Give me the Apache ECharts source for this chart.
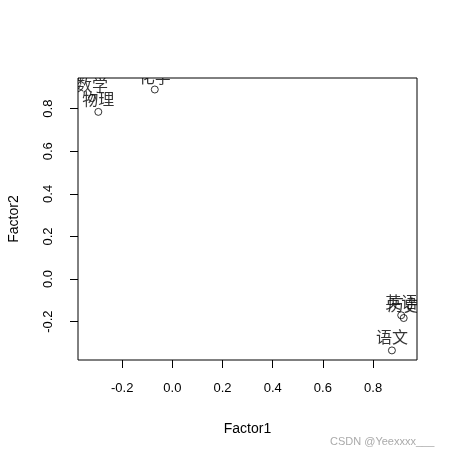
<!DOCTYPE html>
<html>
<head>
<meta charset="utf-8">
<script src="https://cdn.jsdelivr.net/npm/echarts@6/dist/echarts.min.js"></script>
<style>
  html, body { margin: 0; padding: 0; background: #fff; }
  #chart { width: 458px; height: 458px; }
</style>
</head>
<body>
<div id="chart"></div>
<script>
// subjects and their loadings on the two factors
var subjects = ["数学", "物理", "化学", "语文", "英语", "历史"];
var factor1 = [-0.32, -0.295, -0.07, 0.875, 0.912, 0.922];
var factor2 = [0.85, 0.785, 0.89, -0.335, -0.17, -0.183];
var xTicks = [-0.2, 0.0, 0.2, 0.4, 0.6, 0.8];
var yTicks = [-0.2, 0.0, 0.2, 0.4, 0.6, 0.8];

var G = { left: 78, right: 41, top: 78, bottom: 98 };
var W = 458, H = 458;

var points = [];
for (var i = 0; i < subjects.length; i++) {
  points.push({ name: subjects[i], value: [factor1[i], factor2[i]] });
}

var chart = echarts.init(document.getElementById("chart"));
var tickFont = { fontFamily: "Liberation Sans", fontSize: 13, color: "#000" };

chart.setOption({
  animation: false,
  grid: {
    left: G.left, right: G.right, top: G.top, bottom: G.bottom,
    outerBoundsMode: "none", containLabel: false,
    show: true, borderColor: "#000", borderWidth: 1, z: 10
  },
  xAxis: {
    type: "value", min: -0.376, max: 0.975, z: 10,
    name: "Factor1", nameLocation: "middle", nameGap: 62,
    nameTextStyle: { fontFamily: "Liberation Sans", fontSize: 14, color: "#000" },
    axisLine: { show: false, onZero: false },
    splitLine: { show: false },
    axisTick: { show: true, length: 8, customValues: xTicks, lineStyle: { color: "#000" } },
    axisLabel: Object.assign({ margin: 22, customValues: xTicks,
      formatter: function (v) { return v.toFixed(1); } }, tickFont)
  },
  yAxis: {
    type: "value", min: -0.38, max: 0.944, z: 10,
    name: "Factor2", nameLocation: "middle", nameGap: 57,
    nameTextStyle: { fontFamily: "Liberation Sans", fontSize: 14, color: "#000" },
    axisLine: { show: false, onZero: false },
    splitLine: { show: false },
    axisTick: { show: true, length: 8, customValues: yTicks, lineStyle: { color: "#000" } },
    axisLabel: Object.assign({ margin: 23, rotate: 90, customValues: yTicks,
      formatter: function (v) { return v.toFixed(1); } }, tickFont)
  },
  series: [{
    type: "scatter",
    z: 1,
    data: points,
    symbol: "circle",
    symbolSize: 7,
    itemStyle: { color: "rgba(0,0,0,0)", borderColor: "#000", borderWidth: 1 },
    label: {
      show: true, position: "top", distance: 1,
      formatter: "{b}",
      fontFamily: "Noto Sans CJK SC", fontSize: 16, color: "#000"
    },
    labelLayout: { hideOverlap: false }
  }],
  // white masks outside the plot box so labels are clipped like the original
  graphic: [
    { type: "rect", z: 5, silent: true, shape: { x: 0, y: 0, width: W, height: G.top }, style: { fill: "#fff" } },
    { type: "rect", z: 5, silent: true, shape: { x: 0, y: 0, width: G.left, height: H }, style: { fill: "#fff" } },
    { type: "rect", z: 5, silent: true, shape: { x: W - G.right, y: 0, width: G.right, height: H }, style: { fill: "#fff" } },
    { type: "rect", z: 5, silent: true, shape: { x: 0, y: H - G.bottom, width: W, height: G.bottom }, style: { fill: "#fff" } },
    { type: "text", z: 20, left: 330, top: 436,
      style: { text: "CSDN @Yeexxxx___", fill: "#aaa", font: "11px Liberation Sans" } }
  ]
});
</script>
</body>
</html>
